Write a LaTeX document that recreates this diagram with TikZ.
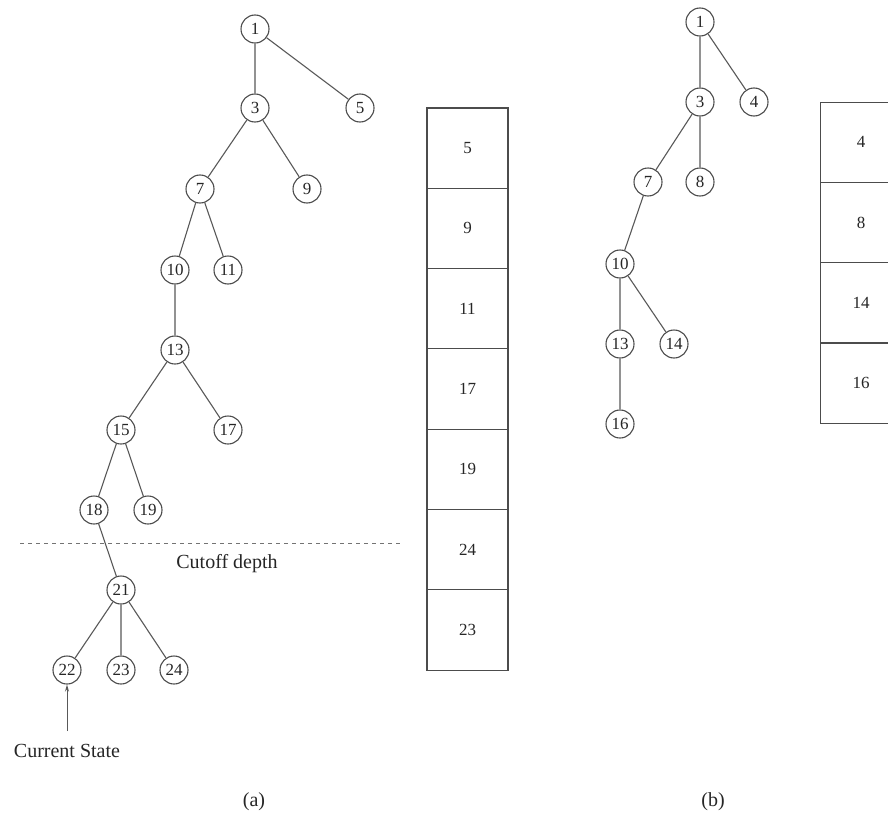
\documentclass[tikz,border=0pt]{standalone}
\usepackage{fontspec}
\setmainfont{Liberation Serif}
\usetikzlibrary{arrows.meta}
\begin{document}
\begin{tikzpicture}[x=1pt,y=-1pt,
  st/.style={draw=black!70,line width=1.1pt,circle,minimum size=28pt,inner sep=0pt,font=\fontsize{17}{20}\selectfont,text=black!85},
  cell/.style={draw=black!70,line width=1.1pt,rectangle,minimum width=81pt,minimum height=80.3pt,inner sep=0pt,font=\fontsize{17}{20}\selectfont,text=black!85},
  edge/.style={draw=black!65,line width=1.1pt},
  lbl/.style={font=\fontsize{20}{24}\selectfont,text=black!85}]
\clip (0,0) rectangle (888,816);
\fill[white] (0,0) rectangle (888,816);
% tree (a)
\node[st] (a1) at (255,29) {1};
\node[st] (a3) at (255,108) {3};
\node[st] (a5) at (360,108) {5};
\node[st] (a7) at (200,189) {7};
\node[st] (a9) at (307,189) {9};
\node[st] (a10) at (175,270) {10};
\node[st] (a11) at (228,270) {11};
\node[st] (a13) at (175,350) {13};
\node[st] (a15) at (121,430) {15};
\node[st] (a17) at (228,430) {17};
\node[st] (a18) at (94,510) {18};
\node[st] (a19) at (148,510) {19};
\node[st] (a21) at (121,590) {21};
\node[st] (a22) at (67,670) {22};
\node[st] (a23) at (121,670) {23};
\node[st] (a24) at (174,670) {24};
\path[edge] (a1)--(a3) (a1)--(a5) (a3)--(a7) (a3)--(a9) (a7)--(a10) (a7)--(a11)
  (a10)--(a13) (a13)--(a15) (a13)--(a17) (a15)--(a18) (a15)--(a19) (a18)--(a21)
  (a21)--(a22) (a21)--(a23) (a21)--(a24);
\coordinate (cutL) at (20,543);
\coordinate (cutR) at (402,543);
\draw[black!55,line width=1pt,dash pattern=on 4pt off 4pt] (cutL) -- (cutR);
\node[lbl] (cut) at (227,564) {Cutoff depth};
\node[lbl] (cur) at (67,751) {Current State};
\coordinate (curtop) at (67,731);
\draw[black!65,line width=1pt,-{Stealth[length=7pt,width=4pt]}] (curtop) -- (a22);
\node[lbl] (capa) at (254,802) {(a)};
% stack (a)
\node[cell] (sa1) at (467.5,148.1) {5};
\node[cell] (sa2) at (467.5,228.4) {9};
\node[cell] (sa3) at (467.5,308.7) {11};
\node[cell] (sa4) at (467.5,389.0) {17};
\node[cell] (sa5) at (467.5,469.3) {19};
\node[cell] (sa6) at (467.5,549.6) {24};
\node[cell] (sa7) at (467.5,629.9) {23};
% tree (b)
\node[st] (b1) at (700,22) {1};
\node[st] (b3) at (700,102) {3};
\node[st] (b4) at (754,102) {4};
\node[st] (b7) at (648,182) {7};
\node[st] (b8) at (700,182) {8};
\node[st] (b10) at (620,264) {10};
\node[st] (b13) at (620,344) {13};
\node[st] (b14) at (674,344) {14};
\node[st] (b16) at (620,424) {16};
\path[edge] (b1)--(b3) (b1)--(b4) (b3)--(b7) (b3)--(b8) (b7)--(b10) (b10)--(b13)
  (b10)--(b14) (b13)--(b16);
% stack (b)
\node[cell] (sb1) at (861,142.2) {4};
\node[cell] (sb2) at (861,222.5) {8};
\node[cell] (sb3) at (861,302.8) {14};
\node[cell] (sb4) at (861,383.1) {16};
\node[lbl] (capb) at (713,802) {(b)};
\end{tikzpicture}
\end{document}
